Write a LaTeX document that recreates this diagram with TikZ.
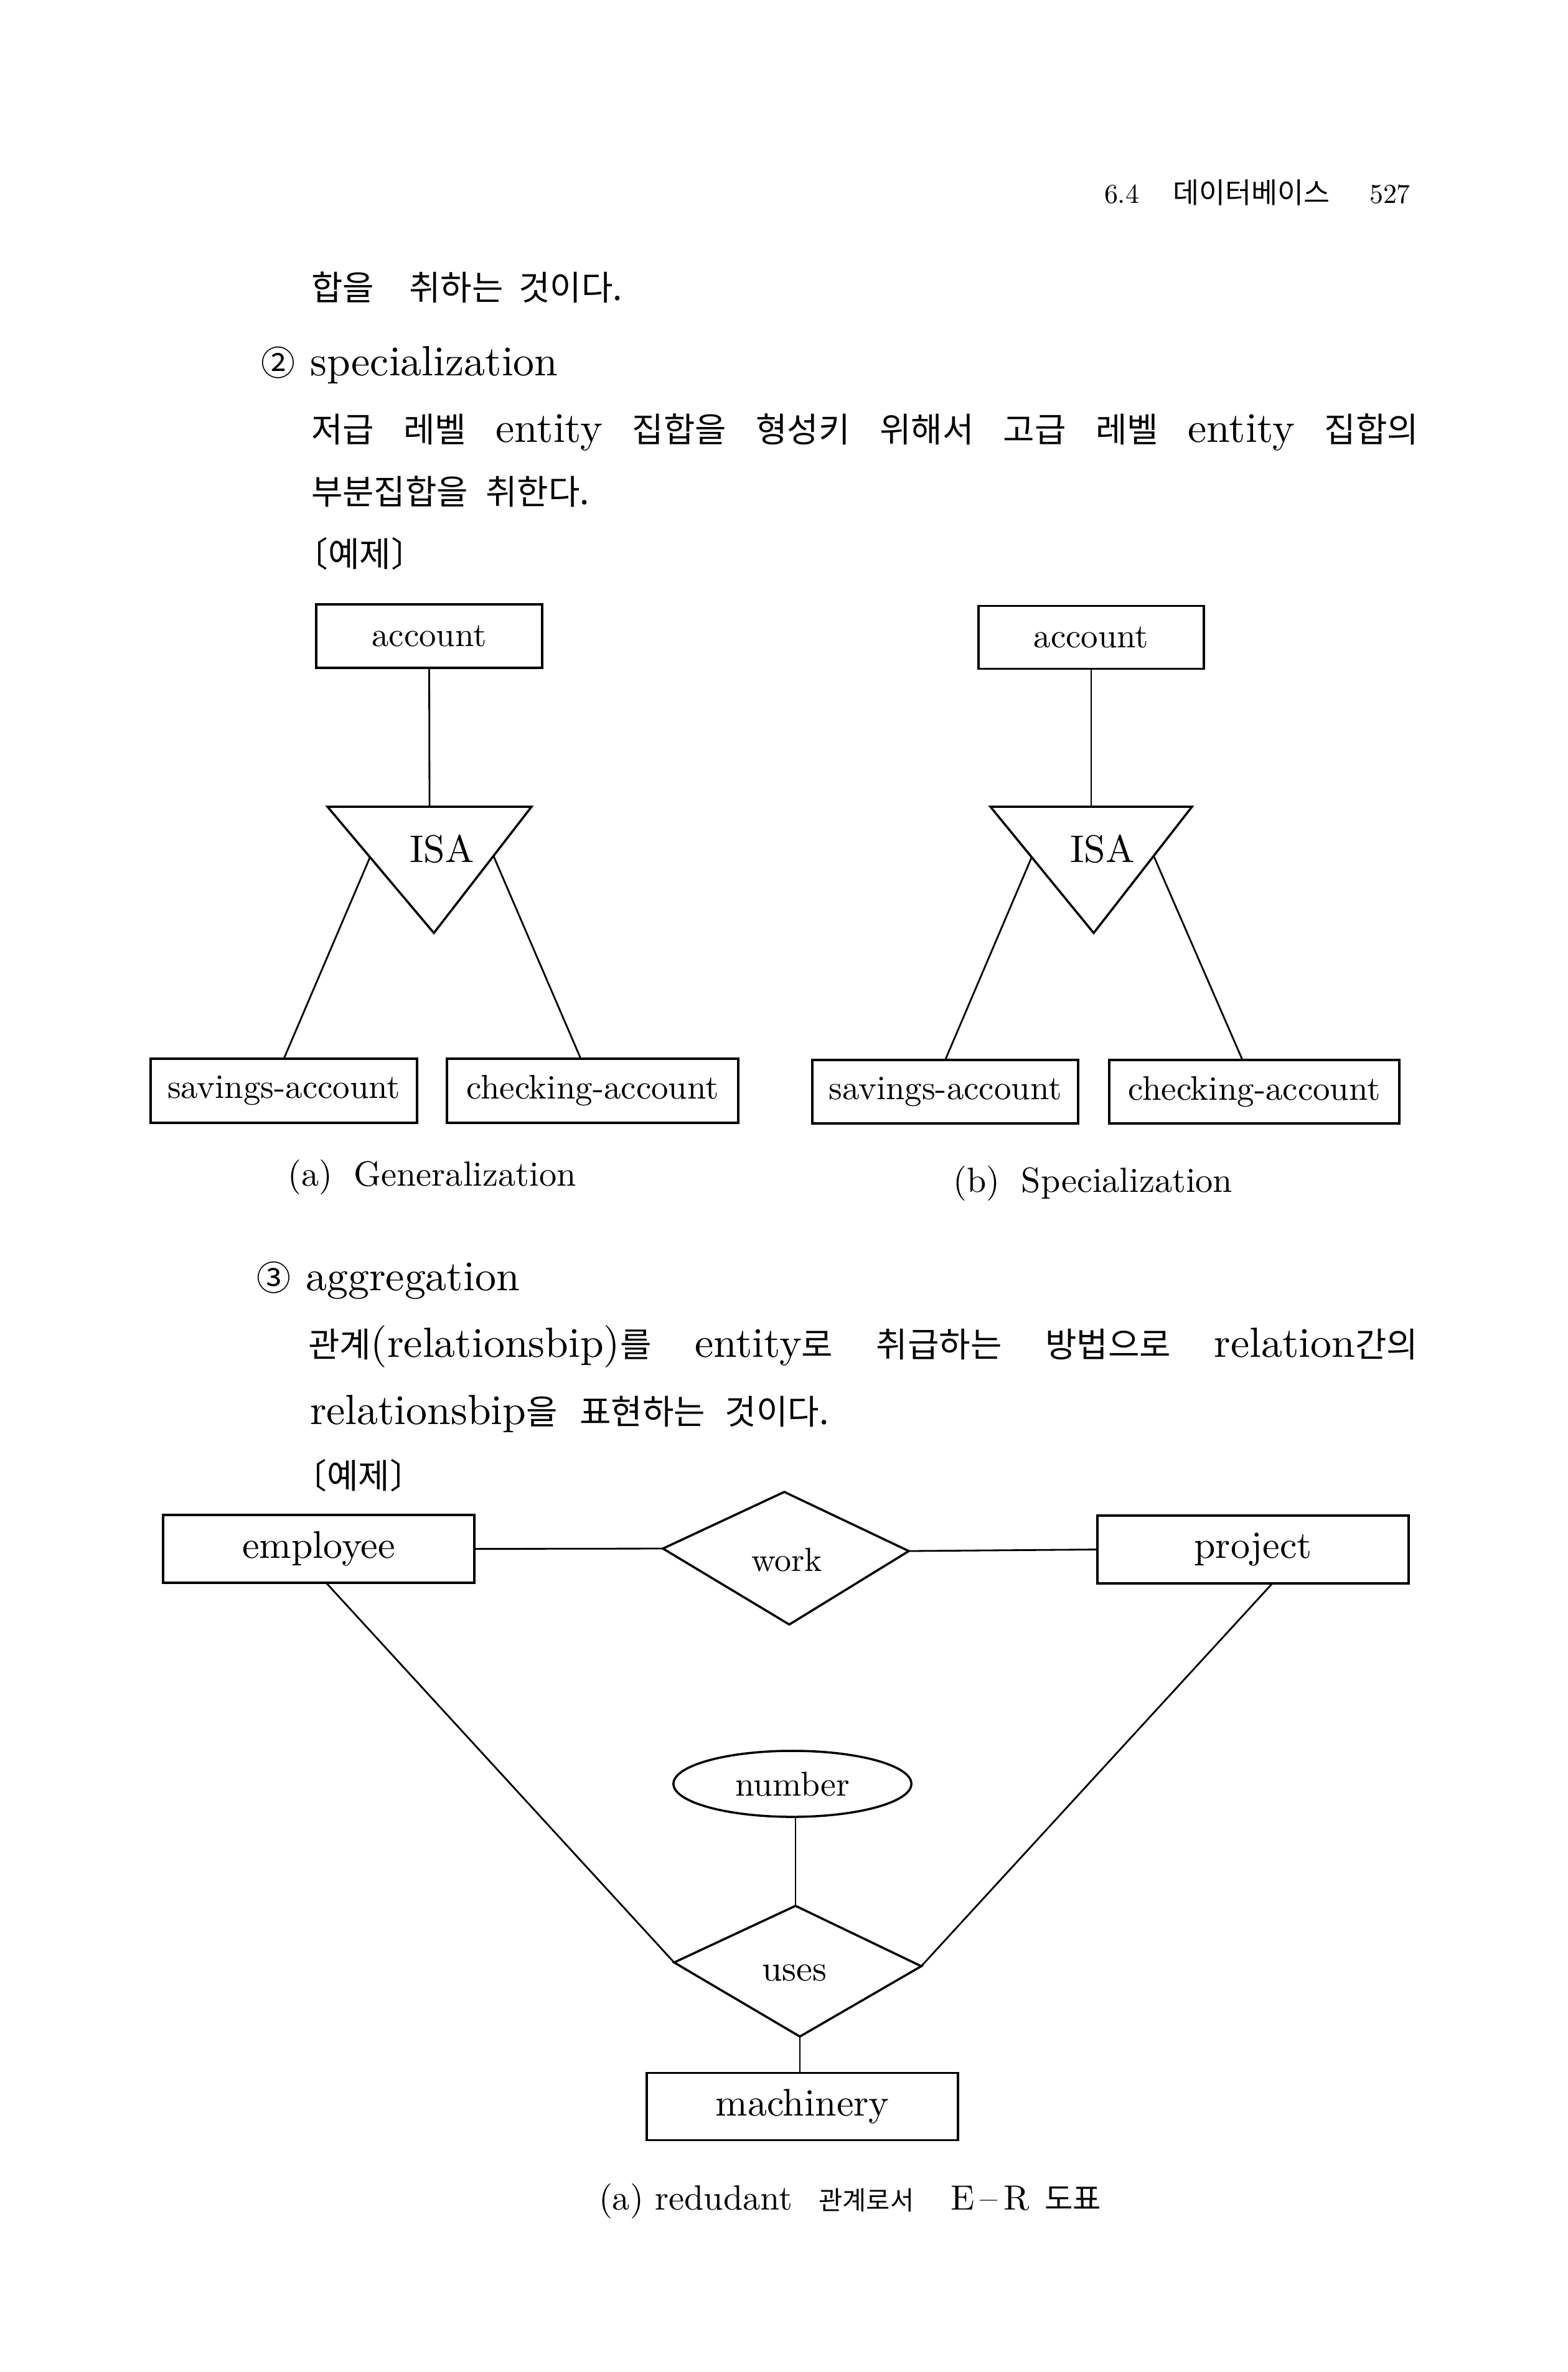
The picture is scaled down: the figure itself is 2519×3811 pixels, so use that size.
\documentclass[tikz,border=0pt]{standalone}
\usepackage{fontspec}
\setmainfont{lmroman10-regular}[Extension=.otf]
\newfontfamily\krfont{Noto Sans CJK KR}
\usetikzlibrary{calc,shapes.geometric}
\newcommand{\myko}[1]{{\krfont\fontsize{15.6}{18}\selectfont #1}}
\newcommand{\bodyfnt}{\fontsize{19.3}{23}\selectfont}
\newcommand{\lbr}{\makebox[0.5em][r]{〔}}
\newcommand{\rbr}{\makebox[0.5em][l]{〕}}
\begin{document}
\begin{tikzpicture}[x=0.01cm,y=-0.01cm,
  every node/.style={inner sep=0pt, outer sep=0pt},
  txt/.style={anchor=base west, font=\bodyfnt},
  ent/.style={draw, line width=1pt, rectangle, font=\fontsize{15.6}{18}\selectfont},
  bigent/.style={draw, line width=1pt, rectangle, font=\fontsize{17.6}{20}\selectfont},
  lnk/.style={line width=0.8pt},
  shp/.style={line width=1pt, line join=miter},
  lbl/.style={font=\fontsize{16}{19}\selectfont},
  isa/.style={font=\fontsize{17.6}{21}\selectfont}
]
\useasboundingbox (0,0) rectangle (2519,3811);
\fill[white] (0,0) rectangle (2519,3811);

% header
\node[anchor=base west, font=\fontsize{12.5}{15}\selectfont] (hnum) at (1774,326) {6.4};
\node[anchor=base west] (htitle) at (1884,326) {\krfont\fontsize{13}{14}\selectfont 데이터베이스};
\node[anchor=base west, font=\fontsize{12.5}{15}\selectfont] (hpage) at (2200,326) {527};

% body text 1
\node[txt] (l1) at (500,482) {\myko{합을}\hspace{16pt}\myko{취하는}\hspace{7pt}\myko{것이다.}};
\node[txt] (l2) at (419,603) {\myko{②}\hspace{7pt}specialization};
\node[txt] (l3) at (500,710) {\makebox[17.78cm][s]{\myko{저급} \myko{레벨} entity \myko{집합을} \myko{형성키} \myko{위해서} \myko{고급} \myko{레벨} entity \myko{집합의}}};
\node[txt] (l4) at (500,810) {\myko{부분집합을}\hspace{8pt}\myko{취한다.}};
\node[txt] (l5) at (500,910) {\myko{\lbr 예제\rbr}};

% diagram (a)
\node[ent, minimum width=3.63cm, minimum height=1.02cm] (aacc) at (689.5,1022) {account};
\coordinate (aTL) at (526,1296);
\coordinate (aTR) at (854,1296);
\coordinate (aB) at (697,1499);
\draw[shp] (aTL) -- (aTR) -- (aB) -- cycle;
\node[isa] (aisa) at (710,1364) {ISA};
\node[ent, minimum width=4.28cm, minimum height=1.03cm] (asav) at (456,1752.5) {savings-account};
\node[ent, minimum width=4.68cm, minimum height=1.03cm] (achk) at (952,1752.5) {checking-account};
\draw[lnk] (aacc.south) -- ($(aTL)!0.5!(aTR)$);
\draw[lnk] ($(aTL)!0.4!(aB)$) -- (asav.north);
\draw[lnk] ($(aTR)!0.39!(aB)$) -- ($(achk.north)+(-19,0)$);
\node[lbl, anchor=base] (acap) at (694,1905) {(a)\hspace{9.7pt}Generalization};

% diagram (b)
\node[ent, minimum width=3.62cm, minimum height=1.01cm] (bacc) at (1753,1024) {account};
\coordinate (bTL) at (1591,1296);
\coordinate (bTR) at (1915,1296);
\coordinate (bB) at (1757,1499);
\draw[shp] (bTL) -- (bTR) -- (bB) -- cycle;
\node[isa] (bisa) at (1771,1364) {ISA};
\node[ent, minimum width=4.27cm, minimum height=1.02cm] (bsav) at (1518.5,1754) {savings-account};
\node[ent, minimum width=4.66cm, minimum height=1.02cm] (bchk) at (2015,1754) {checking-account};
\draw[lnk] (bacc.south) -- ($(bTL)!0.5!(bTR)$);
\draw[lnk] ($(bTL)!0.4!(bB)$) -- (bsav.north);
\draw[lnk] ($(bTR)!0.39!(bB)$) -- ($(bchk.north)+(-19,0)$);
\node[lbl, anchor=base] (bcap) at (1756,1915) {(b)\hspace{9.7pt}Specialization};

% body text 2
\node[txt] (m1) at (412,2073) {\myko{③}\hspace{7pt}aggregation};
\node[txt] (m2) at (495,2180) {\makebox[17.82cm][s]{\myko{관계}(relationsbip)\myko{를} entity\myko{로} \myko{취급하는} \myko{방법으로} relation\myko{간의}}};
\node[txt] (m3) at (498,2288) {relationsbip\myko{을}\hspace{10pt}\myko{표현하는}\hspace{9pt}\myko{것이다.}};
\node[txt] (m4) at (498,2391) {\myko{\lbr 예제\rbr}};

% aggregation diagram
\node[bigent, minimum width=5cm, minimum height=1.09cm] (emp) at (512,2488.5) {employee};
\node[bigent, minimum width=5cm, minimum height=1.09cm] (prj) at (2013,2489.5) {project};
\coordinate (wL) at (1065,2488);
\coordinate (wT) at (1260,2397);
\coordinate (wR) at (1460,2492);
\coordinate (wB) at (1268,2610);
\draw[shp] (wL) -- (wT) -- (wR) -- (wB) -- cycle;
\node[font=\fontsize{15.3}{18}\selectfont] (work) at (1264,2506) {work};
\draw[lnk] (emp.east) -- (wL);
\draw[lnk] (wR) -- (prj.west);

\node[draw, ellipse, shp, font=\fontsize{15.8}{18}\selectfont, minimum width=3.82cm, minimum height=1.06cm] (num) at (1273,2866) {number};
\coordinate (uT) at (1278,3062);
\coordinate (uL) at (1083,3153);
\coordinate (uR) at (1480,3159);
\coordinate (uB) at (1285,3272);
\draw[shp] (uL) -- (uT) -- (uR) -- (uB) -- cycle;
\node[font=\fontsize{16.5}{19}\selectfont] (uses) at (1276,3170) {uses};
\node[bigent, minimum width=5cm, minimum height=1.08cm] (mach) at (1289,3384.5) {machinery};

\draw[lnk] ($(emp.south)+(12,0)$) -- (uL);
\draw[lnk] ($(prj.south)+(31,0)$) -- (uR);
\draw[lnk] (num.south -| uT) -- (uT);
\draw[lnk] (uB) -- (uB |- mach.north);

\node[anchor=base west, font=\fontsize{16}{19}\selectfont] (ccap) at (962,3550) {(a) redudant\hspace{12pt}{\krfont\fontsize{11.8}{13}\selectfont 관계로서}\hspace{16.8pt}E\,–\,R\hspace{7pt}{\krfont\fontsize{14}{15}\selectfont 도표}};
\end{tikzpicture}
\end{document}
